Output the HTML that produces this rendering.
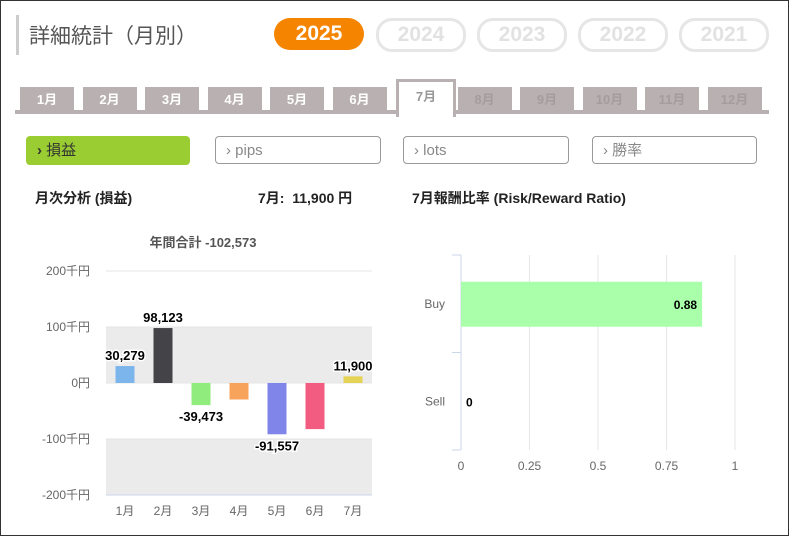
<!DOCTYPE html>
<html><head><meta charset="utf-8">
<style>
body{margin:0;width:789px;height:536px;overflow:hidden;background:#fff;font-family:"Liberation Sans","Noto Sans CJK JP",sans-serif;}
#frame{position:absolute;left:0;top:0;width:787px;height:534px;border:1px solid #333;}
.abs{position:absolute;}
.yr{position:absolute;top:20px;height:28px;border-radius:16px;font-weight:bold;font-size:21px;line-height:28px;text-align:center;width:84px;}
.yr.off{border:3px solid #e6e6e6;color:#e2e2e2;top:18px;}
.tab{position:absolute;top:87px;height:23px;width:54px;background:#b9b1b1;color:#fff;font-weight:bold;font-size:13px;text-align:center;line-height:25px;}
.tab.dim{color:#a59d9d;}
.btn{position:absolute;top:136px;height:28px;width:164px;border:1px solid #999;border-radius:4px;color:#888;font-size:15px;line-height:28px;box-sizing:border-box;padding-left:10px;}
</style></head><body>
<div id="frame"></div>
<div class="abs" style="left:16px;top:15px;width:3px;height:40px;background:#ccc"></div>
<div class="abs" style="left:29px;top:20px;font-size:21px;color:#555">詳細統計（月別）</div>
<div class="yr" style="left:274px;background:#f58400;color:#fff;width:90px;height:32px;line-height:32px;top:18px">2025</div>
<div class="yr off" style="left:376px">2024</div>
<div class="yr off" style="left:477px">2023</div>
<div class="yr off" style="left:578px">2022</div>
<div class="yr off" style="left:679px">2021</div>
<div class="abs" style="left:15px;top:110px;width:754px;height:4px;background:#b9b1b1"></div>
<div id="tabs"></div>
<div class="btn" style="left:26px;background:#9acd32;border-color:#9acd32;color:#333;height:29px"><b>›</b> 損益</div>
<div class="btn" style="left:215px;width:166px">› pips</div>
<div class="btn" style="left:403px;width:166px">› lots</div>
<div class="btn" style="left:592px;width:165px">› 勝率</div>
<div class="abs" style="left:35px;top:188px;font-size:14px;font-weight:bold;color:#222">月次分析 (損益)</div>
<div class="abs" style="left:258px;top:188px;font-size:14px;font-weight:bold;color:#222">7月:&nbsp; 11,900 円</div>
<div class="abs" style="left:412px;top:188px;font-size:14px;font-weight:bold;color:#222">7月報酬比率 (Risk/Reward Ratio)</div>
<svg id="c1" class="abs" style="left:0;top:0" width="789" height="536"></svg>
<script>
const tabsEl=document.getElementById('tabs');
const months=['1月','2月','3月','4月','5月','6月','7月','8月','9月','10月','11月','12月'];
months.forEach((m,i)=>{const d=document.createElement('div');d.className='tab'+(i>6?' dim':'');


d.style.left=(20+i*62.5)+'px';d.textContent=m;
if(i==6){d.style.background='#fff';d.style.color='#999';d.style.border='3px solid #b9b1b1';d.style.borderBottom='none';d.style.top='79px';d.style.height='35px';d.style.lineHeight='30px';d.style.left=(396)+'px';}
tabsEl.appendChild(d);});

const cats=['1月','2月','3月','4月','5月','6月','7月'];
const vals=[30279,98123,-39473,-29500,-91557,-82345,11900];
const colors=['#7cb5ec','#434348','#90ed7d','#f7a35c','#8085e9','#f15c80','#e4d354'];
const labels=['30,279','98,123','-39,473',null,'-91,557',null,'11,900'];
const yTicks=[200000,100000,0,-100000,-200000];
const yTickLabels=['200千円','100千円','0円','-100千円','-200千円'];
const rrCats=['Buy','Sell'];
const rrVals=[0.88,0];
const rrTicks=[0,0.25,0.5,0.75,1];
const rrTickLabels=['0','0.25','0.5','0.75','1'];

const S=document.getElementById('c1');const NS='http://www.w3.org/2000/svg';
function mk(t,a,txt,name){const e=document.createElementNS(NS,t);for(const k in a)e.setAttribute(k,a[k]);if(txt!=null)e.textContent=txt;


S.appendChild(e);return e;}
const y=v=>383-v*(112/200000);
const x0=106,x1=372,bw=(x1-x0)/cats.length;
const xc=i=>x0+bw*(i+0.5);
mk('rect',{x:x0,y:y(100000),width:x1-x0,height:y(0)-y(100000),fill:'#ebebeb'},null,'plot-band');
mk('rect',{x:x0,y:y(-100000),width:x1-x0,height:y(-200000)-y(-100000),fill:'#ebebeb'},null,'plot-band');
yTicks.forEach((t,i)=>{mk('line',{x1:x0,x2:x1,y1:y(t),y2:y(t),stroke:i==4?'#ccd6eb':'#e6e6e6'},null,'grid-line');
mk('text',{x:90,y:y(t)+4,'text-anchor':'end','font-size':12,fill:'#666'},yTickLabels[i],'y-tick-label');});
mk('text',{x:203,y:247,'text-anchor':'middle','font-size':13,'font-weight':'bold',fill:'#555'},'年間合計 -102,573','chart-total');
vals.forEach((v,i)=>{const top=Math.min(y(v),y(0)),h=Math.abs(y(v)-y(0));
mk('rect',{x:xc(i)-9.5,y:top,width:19,height:Math.max(h,1),fill:colors[i]},null,'bar-'+cats[i]);
mk('text',{x:xc(i),y:515,'text-anchor':'middle','font-size':12,fill:'#666'},cats[i],'x-tick-label');
if(labels[i]){const ly=v>=0?top-6:top+h+16;
mk('text',{x:xc(i),y:ly,'text-anchor':'middle','font-size':13,'font-weight':'bold',fill:'#000',stroke:'#fff','stroke-width':3,'paint-order':'stroke'},labels[i],'bar-label');}});

const rx=v=>461+v*274;const rTop=255,rBot=450,rb=(rBot-rTop)/rrCats.length;
rrTicks.forEach((t,i)=>{if(i>0)mk('line',{x1:rx(t),x2:rx(t),y1:rTop,y2:rBot,stroke:'#e6e6e6'},null,'rr-grid');
mk('text',{x:rx(t),y:470,'text-anchor':'middle','font-size':12,fill:'#666'},rrTickLabels[i],'rr-tick-label');});
mk('line',{x1:461,x2:461,y1:rTop,y2:rBot,stroke:'#ccd6eb'},null,'rr-axis');
rrCats.forEach((c,i)=>{const cy=rTop+rb*(i+0.5);
mk('line',{x1:452,x2:461,y1:rTop+rb*i,y2:rTop+rb*i,stroke:'#ccd6eb'},null,'rr-tick');
mk('text',{x:445,y:cy+4,'text-anchor':'end','font-size':12,fill:'#666'},c,'rr-category');
mk('rect',{x:461,y:cy-22,width:rx(rrVals[i])-461,height:45,fill:'#aaffaa'},null,'rr-bar-'+c);
const lx=rrVals[i]>0.1?rx(rrVals[i])-5:rx(rrVals[i])+5;
mk('text',{x:lx,y:cy+5,'text-anchor':rrVals[i]>0.1?'end':'start','font-size':12,'font-weight':'bold',fill:'#000'},String(rrVals[i]),'rr-label');});
mk('line',{x1:452,x2:461,y1:rBot,y2:rBot,stroke:'#ccd6eb'},null,'rr-tick');
</script>
</body></html>
